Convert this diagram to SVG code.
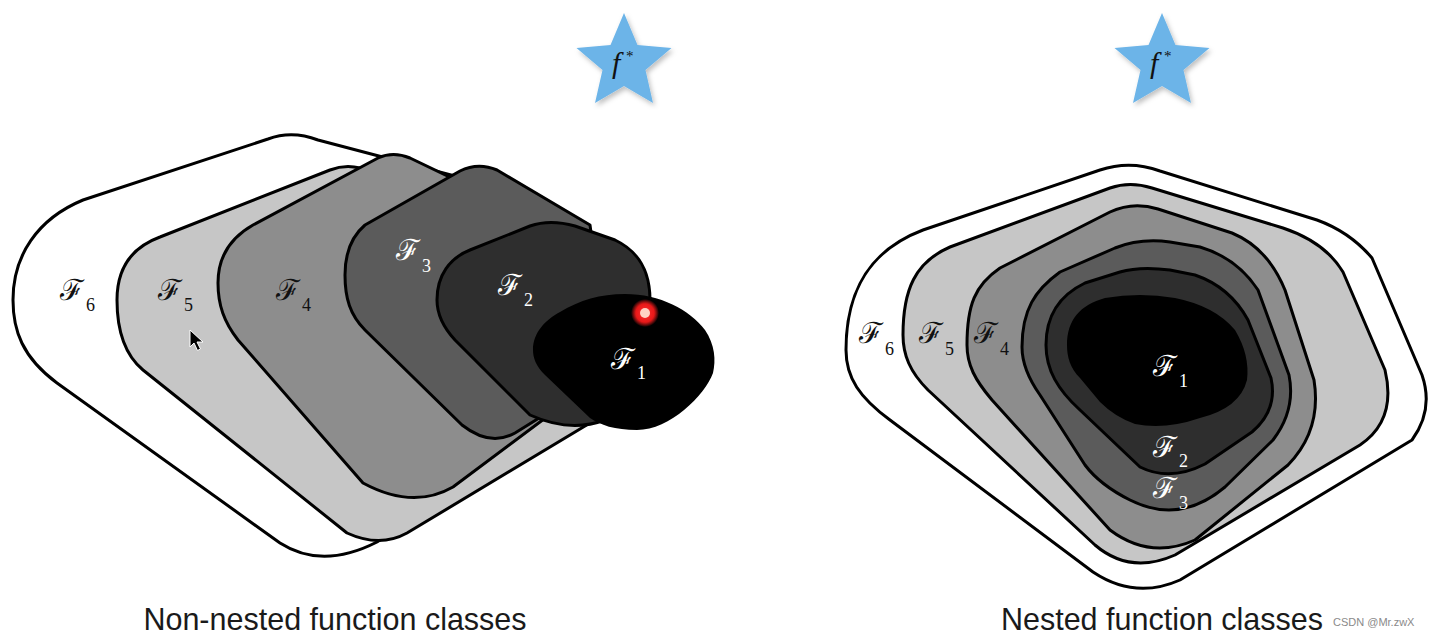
<svg xmlns="http://www.w3.org/2000/svg" width="1430" height="636" viewBox="0 0 1430 636">
<defs>
<style>
.sh{stroke:#000;stroke-width:3;stroke-linejoin:round}
.c6{fill:#fff}.c5{fill:#c6c6c6}.c4{fill:#8d8d8d}.c3{fill:#5b5b5b}.c2{fill:#2e2e2e}.c1{fill:#000}
.lf{font-family:"DejaVu Serif","Liberation Serif",serif;font-size:29px}
.sb{font-family:"Liberation Serif",serif;font-size:18px}
.dk{fill:#111}.wt{fill:#fff}
.star{fill:#6cb4e8}
.cap{font-family:"Liberation Sans",Arial,sans-serif;font-size:30.5px;fill:#1a1a1a;text-anchor:middle}
</style>
<filter id="shadow" x="-20%" y="-20%" width="150%" height="150%">
<feDropShadow dx="2" dy="3" stdDeviation="2.5" flood-color="#000" flood-opacity="0.25"/>
</filter>
<radialGradient id="glow" cx="0.5" cy="0.5" r="0.5">
<stop offset="0" stop-color="#ff3030"/>
<stop offset="0.65" stop-color="#e81818"/>
<stop offset="1" stop-color="#ff2020" stop-opacity="0"/>
</radialGradient>
</defs>
<rect width="1430" height="636" fill="#fff"/>

<g id="left-diagram">
<g id="L-F6">
<path class="sh c6" d="M83,200 L268,139 Q292,130 318,140 L470,180 L470,480 L377,542 Q322,570 280,543 L57,383 C22,357 13,330 13,300 C13,256 37,219 83,200 Z"/>
<text class="lf dk" x="60" y="300">ℱ</text><text class="sb dk" x="86" y="311">6</text>
</g>
<g id="L-F5">
<path class="sh c5" d="M160,237 L330,170 Q345,164 360,168 L560,230 L608,398 Q604,414 590,423 L407,533 Q380,548 347,533 L143,370 C125,355 117,330 117,300 C117,270 130,248 160,237 Z"/>
<text class="lf dk" x="158" y="300">ℱ</text><text class="sb dk" x="184" y="311">5</text>
</g>
<g id="L-F4">
<path class="sh c4" d="M253,225 L378,158 Q393,151 410,158 L560,230 L560,407 L453,487 Q413,510 363,483 L238,340 C224,322 218,305 218,283 C218,257 230,238 253,225 Z"/>
<text class="lf dk" x="276" y="300">ℱ</text><text class="sb dk" x="302" y="311">4</text>
</g>
<g id="L-F3">
<path class="sh c3" d="M365,225 L460,171 Q478,162 497,170 L590,225 L600,300 L560,405 L515,433 Q490,447 462,425 L365,330 C350,315 345,298 345,275 C345,252 352,236 365,225 Z"/>
<text class="lf wt" x="396" y="260">ℱ</text><text class="sb wt" x="422" y="272">3</text>
</g>
<g id="L-F2">
<path class="sh c2" d="M470,250 L530,226 Q550,219 575,226 L615,240 C640,252 650,272 650,300 L650,330 L605,420 Q570,433 530,415 L455,340 C443,327 437,315 437,300 C437,275 450,258 470,250 Z"/>
<text class="lf wt" x="498" y="295">ℱ</text><text class="sb wt" x="524" y="306">2</text>
</g>
<g id="L-F1">
<path class="c1" d="M560,312 C580,300 600,294 625,294 C660,294 690,310 705,330 C715,345 716,360 713,373 C705,395 670,430 637,430 C615,430 600,425 590,418 L545,375 C536,366 533,358 533,350 C533,333 545,320 560,312 Z"/>
<text class="lf wt" x="611" y="369">ℱ</text><text class="sb wt" x="637" y="379">1</text>
</g>
<g id="L-star">
<polygon class="star" filter="url(#shadow)" points="624,13 637.5,45 671.5,48 645.5,70 653,103 624,86 595,103 602.5,70 576.5,48 610.5,45"/>
<text x="612" y="73" font-family="Liberation Serif,serif" font-style="italic" font-size="30" fill="#111">f</text>
<text x="626" y="61" font-family="Liberation Serif,serif" font-size="15" fill="#111">*</text>
</g>
<g id="red-dot">
<circle cx="645" cy="313" r="14" fill="url(#glow)"/>
<circle cx="645" cy="313" r="5" fill="#ffd2c4"/>
</g>
<g id="cursor">
<polygon points="190,330 190,347 194,343 197.5,350.5 200.5,349 197,342 203,342" fill="#000" stroke="#fff" stroke-width="1"/>
</g>
<text class="cap" x="335" y="630">Non-nested function classes</text>
</g>

<g id="right-diagram">
<g id="R-F6">
<path class="sh c6" d="M846,350 C846,290 870,250 923,230 L1100,170 Q1130,160 1160,171 L1317,220 Q1350,232 1372,258 L1422,375 Q1434,410 1412,440 L1180,580 Q1135,600 1093,572 L890,420 C860,398 846,378 846,350 Z"/>
<text class="lf dk" x="859" y="343">ℱ</text><text class="sb dk" x="885" y="355">6</text>
</g>
<g id="R-F5">
<path class="sh c5" d="M903,335 C903,290 915,262 950,247 L1110,188 Q1130,181 1152,188 L1283,228 Q1325,242 1343,272 L1385,370 Q1397,420 1360,445 L1175,555 Q1130,575 1095,545 L928,390 C910,372 903,355 903,335 Z"/>
<text class="lf dk" x="919" y="343">ℱ</text><text class="sb dk" x="945" y="355">5</text>
</g>
<g id="R-F4">
<path class="sh c4" d="M967,345 C967,305 975,285 1000,268 L1110,212 Q1133,201 1158,209 L1232,233 Q1268,248 1285,290 L1314,380 Q1322,430 1288,465 L1195,540 Q1150,560 1110,530 L992,400 C975,380 967,365 967,345 Z"/>
<text class="lf dk" x="974" y="343">ℱ</text><text class="sb dk" x="1000" y="355">4</text>
</g>
<g id="R-F3">
<path class="sh c3" d="M1022,347 C1022,310 1035,290 1060,272 L1115,248 Q1140,238 1170,242 L1200,247 Q1237,258 1258,290 L1289,375 Q1296,410 1273,440 L1225,487 Q1180,525 1130,500 Q1100,485 1085,465 L1040,395 C1028,378 1022,362 1022,347 Z"/>
<text class="lf wt" x="1153" y="498">ℱ</text><text class="sb wt" x="1179" y="509">3</text>
</g>
<g id="R-F2">
<path class="sh c2" d="M1046,345 C1046,315 1060,295 1085,283 L1120,272 Q1140,266 1170,270 L1195,275 Q1230,287 1248,320 L1271,378 Q1278,410 1252,432 L1205,464 Q1170,482 1140,467 L1080,410 C1058,390 1046,370 1046,345 Z"/>
<text class="lf wt" x="1153" y="457">ℱ</text><text class="sb wt" x="1179" y="467">2</text>
</g>
<g id="R-F1">
<path class="c1" d="M1067,345 C1067,320 1080,305 1105,298 Q1140,292 1175,298 Q1215,306 1235,330 Q1250,355 1247,380 Q1240,408 1200,418 Q1165,430 1135,424 Q1115,417 1100,402 L1080,378 C1070,368 1067,357 1067,345 Z"/>
<text class="lf wt" x="1153" y="376">ℱ</text><text class="sb wt" x="1179" y="387">1</text>
</g>
<g id="R-star">
<polygon class="star" filter="url(#shadow)" points="1162,13 1175.5,45 1209.5,48 1183.5,70 1191,103 1162,86 1133,103 1140.5,70 1114.5,48 1148.5,45"/>
<text x="1150" y="73" font-family="Liberation Serif,serif" font-style="italic" font-size="30" fill="#111">f</text>
<text x="1164" y="61" font-family="Liberation Serif,serif" font-size="15" fill="#111">*</text>
</g>
<text class="cap" x="1162" y="630">Nested function classes</text>
</g>

<g id="connectors"/>
<text x="1333" y="626" font-family="Liberation Sans,Arial,sans-serif" font-size="11" fill="#8a8a8a">CSDN @Mr.zwX</text>
</svg>
